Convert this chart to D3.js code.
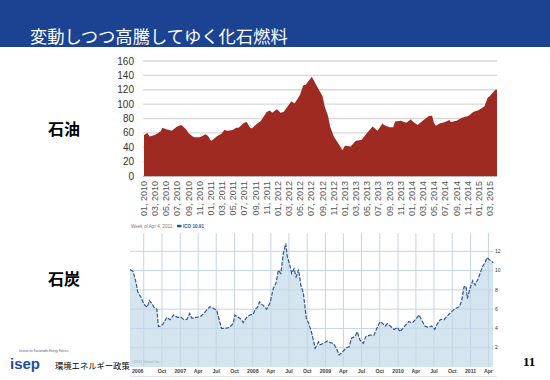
<!DOCTYPE html>
<html>
<head>
<meta charset="utf-8">
<script src="https://cdn.jsdelivr.net/npm/d3@7"></script>
<style>
  body { margin: 0; background: #fff; }
  svg { display: block; font-family: "Liberation Sans", Arial, sans-serif; }
  .jp { font-family: "Noto Sans CJK JP", sans-serif; }
</style>
</head>
<body>
<svg id="slide" width="550" height="380"></svg>
<script>
// ---- oil price (top chart) ----
const oilDates = [
  "2010-01-01","2010-01-19","2010-02-01","2010-02-15","2010-03-01","2010-04-01","2010-04-12","2010-05-01",
  "2010-05-18","2010-06-01","2010-07-01","2010-07-24","2010-08-18","2010-09-01","2010-09-18","2010-10-01",
  "2010-11-01","2010-11-18","2010-12-01","2010-12-15","2011-01-01","2011-01-15","2011-02-01","2011-03-01",
  "2011-03-15","2011-04-01","2011-05-01","2011-05-18","2011-06-01","2011-07-01","2011-07-15","2011-08-01",
  "2011-08-12","2011-09-01","2011-10-01","2011-11-01","2011-11-18","2011-12-01","2011-12-27","2012-01-01",
  "2012-01-15","2012-02-01","2012-03-01","2012-03-15","2012-04-01","2012-05-01","2012-05-18","2012-06-01",
  "2012-07-01","2012-07-04","2012-08-01","2012-09-01","2012-09-12","2012-10-01","2012-10-12","2012-11-01",
  "2012-12-01","2012-12-18","2013-01-01","2013-02-01","2013-03-01","2013-04-01","2013-05-01","2013-06-01",
  "2013-06-27","2013-07-01","2013-07-24","2013-08-01","2013-09-01","2013-09-21","2013-10-01","2013-11-01",
  "2013-12-01","2013-12-27","2014-01-01","2014-01-15","2014-02-01","2014-03-01","2014-04-01","2014-04-21",
  "2014-05-01","2014-05-12","2014-06-01","2014-07-01","2014-07-24","2014-08-01","2014-09-01","2014-10-01",
  "2014-11-01","2014-11-12","2014-12-01","2015-01-01","2015-02-01","2015-02-18","2015-03-01","2015-04-01",
  "2015-04-10"
];
const oilValues = [
  57,60,55,56,57,62,67,65,
  64,63,69,71,65,60,56,54,
  54,56,58,56,49,51,55,59,
  64,63,64,67,67,74,75,68,
  66,71,77,89,91,88,93,92,
  88,89,99,104,101,113,126,127,
  137,138,125,111,97,83,69,55,
  43,36,42,41,49,50,60,69,
  63,64,73,71,68,68,76,77,
  74,79,77,74,71,77,83,84,
  74,70,73,75,78,75,77,81,
  83,85,89,92,97,109,111,120,
  120
];
const oilYTicks = [0, 20, 40, 60, 80, 100, 120, 140, 160];

// ---- coal price (bottom chart) ----
const coalDates = [
  "2006-04-23","2006-05-09","2006-05-23","2006-06-01","2006-06-09","2006-06-16","2006-06-26","2006-07-07",
  "2006-07-19","2006-07-29","2006-08-10","2006-08-22","2006-09-05","2006-09-13","2006-09-25","2006-10-08",
  "2006-10-25","2006-11-11","2006-11-28","2006-12-18","2007-01-04","2007-01-21","2007-02-04","2007-02-17",
  "2007-03-01","2007-03-21","2007-04-10","2007-04-30","2007-05-13","2007-05-30","2007-06-16","2007-07-03",
  "2007-07-16","2007-07-28","2007-08-14","2007-09-05","2007-09-25","2007-10-03","2007-10-20","2007-11-06",
  "2007-11-14","2007-12-01","2007-12-18","2008-01-04","2008-01-13","2008-01-25","2008-02-04","2008-02-16",
  "2008-02-27","2008-03-11","2008-03-28","2008-04-13","2008-04-27","2008-05-09","2008-05-21","2008-06-03",
  "2008-06-15","2008-06-23","2008-07-03","2008-07-15","2008-07-27","2008-08-06","2008-08-18","2008-08-30",
  "2008-09-12","2008-09-26","2008-10-07","2008-10-24","2008-11-10","2008-11-27","2008-12-05","2008-12-22",
  "2009-01-11","2009-01-28","2009-02-10","2009-02-24","2009-03-11","2009-03-28","2009-04-17","2009-04-30",
  "2009-05-12","2009-05-29","2009-06-10","2009-06-23","2009-07-10","2009-07-23","2009-08-12","2009-09-02",
  "2009-09-16","2009-10-03","2009-10-16","2009-10-28","2009-11-09","2009-11-26","2009-12-12","2009-12-29",
  "2010-01-12","2010-02-01","2010-02-23","2010-03-15","2010-04-04","2010-04-17","2010-04-29","2010-05-16",
  "2010-06-02","2010-06-19","2010-07-05","2010-07-17","2010-08-03","2010-08-20","2010-09-11","2010-10-03",
  "2010-10-20","2010-11-06","2010-11-18","2010-11-29","2010-12-09","2010-12-16","2010-12-29","2011-01-12",
  "2011-01-24","2011-02-05","2011-02-18","2011-03-02","2011-03-13","2011-03-25","2011-04-04","2011-04-16",
  "2011-04-24"
];
const coalValues = [
  10.1,9.9,8.8,7.8,7.5,7.3,6.8,6.4,
  6.2,6.9,6.6,6.2,6.0,4.2,4.25,4.5,
  5.15,4.9,5.4,5.15,5.15,4.9,4.95,5.55,
  5.05,5.15,5.2,5.55,5.9,6.25,6.1,5.9,
  4.9,4.0,4.0,4.1,4.5,5.4,5.15,4.9,
  4.6,5.15,5.4,5.5,6.0,6.2,6.75,6.5,
  6.3,6.0,6.65,8.15,8.7,10.05,9.7,11.8,
  12.8,11.4,10.75,9.7,10.2,9.35,10.1,8.5,
  7.6,5.1,4.6,3.5,1.95,2.6,2.3,2.45,
  2.7,2.5,2.45,1.95,1.25,1.6,2.0,2.1,
  3.0,3.15,3.65,2.8,2.45,3.15,3.3,3.3,
  4.0,4.7,4.5,4.25,4.5,4.2,3.9,4.1,
  3.65,4.2,4.7,4.6,5.05,5.4,4.9,4.25,
  4.1,4.25,3.9,4.45,4.95,4.9,5.4,5.85,
  6.1,6.25,6.95,8.3,8.4,7.1,8.15,8.95,
  8.5,9.0,9.7,10.4,10.75,11.35,11.15,11.0,
  10.8
];
const coalYTicks = [2, 4, 6, 8, 10, 12];
const coalTickDates = [
  "2006-06-01","2006-10-01","2007-01-01","2007-04-01","2007-07-01","2007-10-01","2008-01-01","2008-04-01",
  "2008-07-01","2008-10-01","2009-01-01","2009-04-01","2009-07-01","2009-10-01","2010-01-01","2010-04-01",
  "2010-07-01","2010-10-01","2011-01-01","2011-04-01"
];
const coalTickLabels = [
  "2006","Oct","2007","Apr","Jul","Oct","2008","Apr","Jul","Oct","2009","Apr","Jul","Oct","2010","Apr",
  "Jul","Oct","2011","Apr"
];
const coalGridDates = [
  "2006-07-01","2006-10-01","2007-01-01","2007-04-01","2007-07-01","2007-10-01","2008-01-01","2008-04-01",
  "2008-07-01","2008-10-01","2009-01-01","2009-04-01","2009-07-01","2009-10-01","2010-01-01","2010-04-01",
  "2010-07-01","2010-10-01","2011-01-01","2011-04-01"
];

const parse = d3.timeParse("%Y-%m-%d");
const svg = d3.select("#slide");

// title bar
svg.append("rect").attr("x", 0).attr("y", 0).attr("width", 550).attr("height", 47).attr("fill", "#1c4292");
svg.append("text").attr("class", "jp").attr("x", 30).attr("y", 43)
  .attr("font-size", 17.3).attr("fill", "#fff").text("変動しつつ高騰してゆく化石燃料");

// ---------- oil ----------
const oil = oilDates.map((d, i) => ({ date: parse(d), value: oilValues[i] }));
const xOil = d3.scaleTime().domain([parse("2010-01-01"), parse("2015-04-10")]).range([144, 497]);
const yOil = d3.scaleLinear().domain([0, 160]).range([176, 61]);

const gOil = svg.append("g");
gOil.append("g").selectAll("line").data(oilYTicks).join("line")
  .attr("x1", 143).attr("x2", 497)
  .attr("y1", d => yOil(d)).attr("y2", d => yOil(d))
  .attr("stroke", "#d9d9d9").attr("stroke-width", 1.3);

gOil.append("path").datum(oil)
  .attr("fill", "#9e2a22")
  .attr("d", d3.area().x(d => xOil(d.date)).y0(yOil(0)).y1(d => yOil(d.value)));

gOil.append("line").attr("x1", 143).attr("x2", 497).attr("y1", 176.5).attr("y2", 176.5)
  .attr("stroke", "#bbb");

gOil.append("g").selectAll("text").data(oilYTicks).join("text")
  .attr("x", 134).attr("y", d => yOil(d)).attr("dy", "0.35em")
  .attr("text-anchor", "end").attr("font-size", 10).attr("fill", "#333")
  .text(d => d);

const oilTicks = d3.timeMonth.every(2).range(parse("2010-01-01"), parse("2015-04-01"));
const fmt = d3.timeFormat("%m, %Y");
gOil.append("g").selectAll("text").data(oilTicks).join("text")
  .attr("transform", d => `translate(${xOil(d)},181) rotate(-90)`)
  .attr("dy", "0.35em").attr("text-anchor", "end")
  .attr("font-size", 9).attr("fill", "#555")
  .text(d => fmt(d));

svg.append("text").attr("class", "jp").attr("x", 48).attr("y", 135)
  .attr("font-size", 16).attr("font-weight", "bold").attr("fill", "#000").text("石油");

// ---------- coal ----------
const coal = coalDates.map((d, i) => ({ date: parse(d), value: coalValues[i] }));
const xCoal = d3.scaleTime().domain([parse("2006-04-23"), parse("2011-04-24")]).range([130, 493]);
const yCoal = d3.scaleLinear().domain([0, 13.9]).range([367, 233]);

const gCoal = svg.append("g");
gCoal.append("path").datum(coal)
  .attr("fill", "#d5e5f0")
  .attr("d", d3.area().x(d => xCoal(d.date)).y0(yCoal(0)).y1(d => yCoal(d.value)));

gCoal.append("g").selectAll("line").data(coalGridDates).join("line")
  .attr("x1", d => xCoal(parse(d))).attr("x2", d => xCoal(parse(d)))
  .attr("y1", 233).attr("y2", 367)
  .attr("stroke", "#c3d5e6").attr("stroke-width", 1);
gCoal.append("g").selectAll("line").data(coalYTicks).join("line")
  .attr("x1", 130).attr("x2", 493)
  .attr("y1", d => yCoal(d)).attr("y2", d => yCoal(d))
  .attr("stroke", "#c3d5e6").attr("stroke-width", 1);

gCoal.append("path").datum(coal)
  .attr("fill", "none").attr("stroke", "#34578d").attr("stroke-width", 1.2)
  .attr("stroke-dasharray", "4,1.5")
  .attr("d", d3.line().x(d => xCoal(d.date)).y(d => yCoal(d.value)));

gCoal.append("g").selectAll("text").data(coalYTicks).join("text")
  .attr("x", 495).attr("y", d => yCoal(d)).attr("dy", "0.35em")
  .attr("font-size", 5).attr("fill", "#333").text(d => d);

gCoal.append("g").selectAll("text").data(coalTickDates).join("text")
  .attr("x", d => xCoal(parse(d))).attr("y", 373)
  .attr("text-anchor", "middle").attr("font-size", 5.2).attr("font-weight", "bold")
  .attr("fill", "#444").text((d, i) => coalTickLabels[i]);
gCoal.append("line").attr("x1", 130).attr("x2", 497).attr("y1", 376.5).attr("y2", 376.5)
  .attr("stroke", "#e4e4e4");

// legend
const leg = gCoal.append("g").attr("transform", "translate(131,228)");
leg.append("text").attr("font-size", 4.6).attr("fill", "#777").text("Week of Apr 4, 2011:");
leg.append("rect").attr("x", 46).attr("y", -3.2).attr("width", 4.5).attr("height", 2.5).attr("fill", "#2a5499");
leg.append("text").attr("x", 52).attr("font-size", 4.6).attr("font-weight", "bold")
  .attr("fill", "#2a5499").text("ICO 10.91");
gCoal.append("text").attr("x", 132).attr("y", 363).attr("font-size", 3.5).attr("fill", "#9ab")
  .text("©2011 Yahoo! Inc.");

svg.append("text").attr("class", "jp").attr("x", 48).attr("y", 285)
  .attr("font-size", 16).attr("font-weight", "bold").attr("fill", "#000").text("石炭");

// ---------- footer ----------
svg.append("text").attr("x", 19).attr("y", 352).attr("font-size", 2.8).attr("fill", "#557")
  .text("Institute for Sustainable Energy Policies");
svg.append("text").attr("x", 10).attr("y", 369).attr("font-size", 15).attr("font-weight", "bold")
  .attr("fill", "#1f4ea0").text("isep");
svg.append("text").attr("class", "jp").attr("x", 55).attr("y", 369)
  .attr("font-size", 8.3).attr("fill", "#000").text("環境エネルギー政策");
svg.append("text").attr("x", 523).attr("y", 366).attr("font-size", 13).attr("font-weight", "bold")
  .attr("font-family", "Liberation Serif, serif").attr("fill", "#000").text("11");
</script>
</body>
</html>
